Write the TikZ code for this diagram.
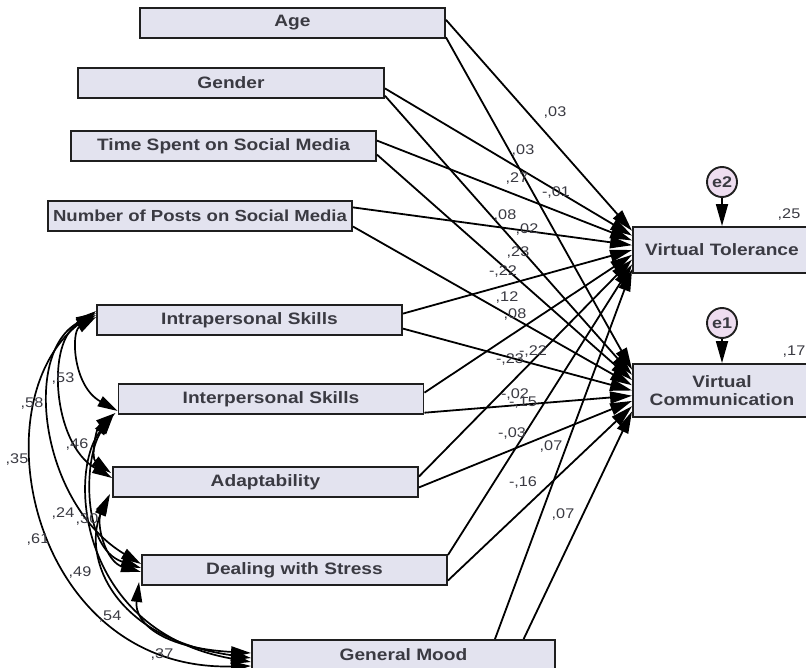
\documentclass[tikz,border=0pt]{standalone}
\usepackage{fontspec}
\setmainfont{Liberation Sans}[FakeStretch=1.16]
\usetikzlibrary{arrows.meta,calc}
\definecolor{boxfill}{HTML}{E3E3EF}
\definecolor{txt}{HTML}{3A3A42}
\definecolor{efill}{HTML}{EEDDF0}
\begin{document}
\begin{tikzpicture}[x=1pt,y=-1pt,
  var/.style={draw=black!88, line width=1.9pt, fill=boxfill, minimum width=305pt, minimum height=30pt, inner sep=0pt, font=\fontsize{16.5}{18}\selectfont\bfseries, text=txt},
  pth/.style={line width=1.8pt, -{Triangle[length=22pt,width=12pt]}},
  cov/.style={line width=1.7pt, {Triangle[length=20pt,width=11pt]}-{Triangle[length=20pt,width=11pt]}},
  lab/.style={font=\fontsize{14}{16}\selectfont, text=txt, inner sep=0pt},
  err/.style={circle, draw=black!88, line width=1.9pt, fill=efill, minimum size=30pt, inner sep=0pt, font=\fontsize{15.5}{17}\selectfont\bfseries, text=txt}]
\useasboundingbox (0,0) rectangle (806,668);
\fill[white] (0,0) rectangle (806,668);

% variables
\node[var] (age) at (292.5,23) {Age};
\node[var, minimum width=306pt] (gen) at (231,83) {Gender};
\node[var] (time) at (223.5,146) {Time Spent on Social Media};
\node[var, minimum width=304pt, font=\fontsize{16}{18}\selectfont\bfseries] (posts) at (200,216) {Number of Posts on Social Media};
\node[var] (intra) at (249.5,320) {Intrapersonal Skills};
\node[var] (inter) at (271,399) {Interpersonal Skills};
\node[var] (adapt) at (265.5,482) {Adaptability};
\node[var] (stress) at (294.5,570) {Dealing with Stress};
\node[var, minimum width=303pt] (mood) at (403.5,655) {General Mood};
\node[var, minimum width=178pt, minimum height=46pt] (vt) at (722,250) {Virtual Tolerance};
\node[var, minimum width=178pt, minimum height=53pt, align=center] (vc) at (722,390.5) {Virtual\\Communication};

% errors
\node[err] (e2) at (722,182) {e2};
\node[err] (e1) at (722,323) {e1};
\draw[pth] (e2) -- (vt.north);
\draw[pth] (e1) -- (vc.north);
\node[lab] (r2vt) at (789,215) {,25};
\node[lab] (r2vc) at (794,352) {,17};

% paths
\foreach \s/\a/\b/\p/\q in {age/0.4/0.95/0.1/0.12, gen/0.67/0.9/0.2/0.215, time/0.33/0.77/0.3/0.31, posts/0.23/0.83/0.4/0.405, intra/0.3/0.77/0.5/0.5, inter/0.3/0.93/0.6/0.595, adapt/0.33/0.67/0.7/0.69, stress/0.03/0.83/0.8/0.785}{
  \draw[pth] ($(\s.north east)!\a!(\s.south east)$) -- ($(vt.north west)!\p!(vt.south west)$);
  \draw[pth] ($(\s.north east)!\b!(\s.south east)$) -- ($(vc.north west)!\q!(vc.south west)$);
}
\draw[pth] ($(mood.north west)!0.8!(mood.north east)$) -- ($(vt.north west)!0.9!(vt.south west)$);
\draw[pth] ($(mood.north west)!0.894!(mood.north east)$) -- ($(vc.north west)!0.88!(vc.south west)$);

% covariances
\draw[cov] ($(intra.west)+(0,-3)$) .. controls +(-25,15) and +(-45,-25) .. ($(inter.south west)+(0,-4)$);
\draw[cov] ($(intra.west)+(0,-5)$) .. controls +(-50,25) and +(-60,-35) .. ($(adapt.west)+(0,-4)$);
\draw[cov] ($(intra.west)+(0,-7)$) .. controls +(-75,40) and +(-100,-60) .. ($(stress.west)+(0,-6)$);
\draw[cov] ($(intra.west)+(0,-9)$) .. controls +(-120,90) and +(-220,5) .. ($(mood.west)+(0,11)$);
\draw[cov] ($(inter.south west)+(-2,-2)$) .. controls +(-20,15) and +(-20,-15) .. ($(adapt.north west)+(-1,7)$);
\draw[cov] ($(inter.south west)+(-4,0)$) .. controls +(-30,40) and +(-60,-20) .. ($(stress.west)+(0,-2)$);
\draw[cov] ($(inter.south west)+(-6,1)$) .. controls +(-45,60) and +(-170,-30) .. ($(mood.west)+(0,7)$);
\draw[cov] ($(adapt.south west)+(-2,-4)$) .. controls +(-15,30) and +(-35,-10) .. ($(stress.west)+(0,2)$);
\draw[cov] ($(adapt.south west)+(-4,-2)$) .. controls +(-25,60) and +(-140,-20) .. ($(mood.west)+(0,3)$);
\draw[cov] ($(stress.south west)+(-2,-4)$) .. controls +(-5,40) and +(-90,-5) .. ($(mood.west)+(0,-2)$);

% covariance labels
\foreach \n/\px/\py/\t in {c1/63/379/{,53}, c2/32/404/{,58}, c3/17/460/{,35}, c4/77/445/{,46}, c5/63/514/{,24}, c6/87/520/{,30}, c7/38/540/{,61}, c8/80/573/{,49}, c9/110/617/{,54}, c10/162/655/{,37}}{
  \node[lab] (\n) at (\px,\py) {\t};
}
% path labels
\foreach \n/\px/\py/\t in {p1/555/113/{,03}, p2/523/151/{,03}, p3/517/179/{,27}, p4/556/193/{-,01}, p5/505/216/{,08}, p6/527/230/{,02}, p7/518/253/{,23}, p8/503/272/{-,22}, p9/507/298/{,12}, p10/515/315/{,08}, p11/510/360/{-,23}, p12/533/352/{-,22}, p13/515/395/{-,02}, p14/523/403/{-,15}, p15/512/434/{-,03}, p16/551/447/{,07}, p17/523/483/{-,16}, p18/563/515/{,07}}{
  \node[lab] (\n) at (\px,\py) {\t};
}
\end{tikzpicture}
\end{document}
